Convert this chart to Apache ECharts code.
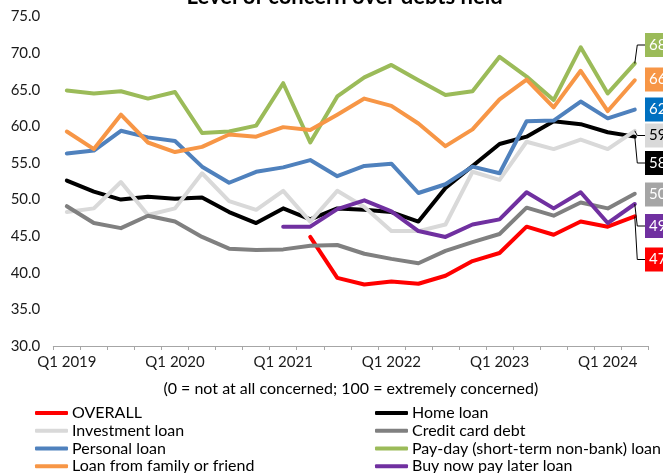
<!DOCTYPE html>
<html>
<head>
<meta charset="utf-8">
<script src="https://cdn.jsdelivr.net/npm/echarts@6/dist/echarts.min.js"></script>
<style>
  html, body { margin: 0; padding: 0; background: #ffffff; }
  #chart { width: 663px; height: 473px; }
</style>
</head>
<body>
<div id="chart"></div>
<script>
// Quarterly survey index, Q1 2019 - Q2 2024
const quarters = [
  'Q1 2019', 'Q2 2019', 'Q3 2019', 'Q4 2019',
  'Q1 2020', 'Q2 2020', 'Q3 2020', 'Q4 2020',
  'Q1 2021', 'Q2 2021', 'Q3 2021', 'Q4 2021',
  'Q1 2022', 'Q2 2022', 'Q3 2022', 'Q4 2022',
  'Q1 2023', 'Q2 2023', 'Q3 2023', 'Q4 2023',
  'Q1 2024', 'Q2 2024'
];

const overall = [null, null, null, null, null, null, null, null, null,
  44.9, 39.3, 38.4, 38.8, 38.5, 39.6, 41.6, 42.7, 46.3, 45.2, 47.0, 46.3, 47.7];
const homeLoan = [52.6, 51.1, 50.0, 50.4, 50.1, 50.3, 48.3, 46.8, 48.8, 47.3, 48.8,
  48.6, 48.3, 47.0, 51.6, 54.6, 57.6, 58.6, 60.7, 60.3, 59.2, 58.6];
const investmentLoan = [48.3, 48.8, 52.4, 47.9, 48.8, 53.6, 49.8, 48.6, 51.2, 47.0, 51.2,
  49.0, 45.7, 45.7, 46.6, 53.8, 52.7, 57.9, 56.9, 58.2, 56.9, 59.4];
const creditCardDebt = [49.1, 46.8, 46.1, 47.8, 47.0, 44.9, 43.3, 43.1, 43.2, 43.7, 43.8,
  42.6, 41.9, 41.3, 43.0, 44.2, 45.3, 48.9, 47.8, 49.6, 48.8, 50.8];
const personalLoan = [56.3, 56.7, 59.4, 58.5, 58.0, 54.5, 52.3, 53.8, 54.4, 55.4, 53.2,
  54.6, 54.9, 50.9, 52.1, 54.5, 53.6, 60.7, 60.8, 63.4, 61.1, 62.3];
const payDayLoan = [64.9, 64.5, 64.8, 63.8, 64.7, 59.1, 59.3, 60.1, 65.9, 57.8, 64.1,
  66.7, 68.4, 66.3, 64.3, 64.8, 69.5, 66.8, 63.6, 70.8, 64.5, 68.6];
const familyLoan = [59.3, 56.9, 61.6, 57.8, 56.5, 57.2, 58.9, 58.6, 59.9, 59.5, 61.6,
  63.8, 62.8, 60.4, 57.3, 59.6, 63.7, 66.4, 62.6, 67.6, 62.1, 66.3];
const bnplLoan = [null, null, null, null, null, null, null, null,
  46.3, 46.3, 48.7, 49.9, 48.4, 45.7, 44.9, 46.6, 47.3, 51.0, 48.8, 51.0, 46.8, 49.4];

const yTicks = { min: 30, max: 75, step: 5 };

// Series definitions: name, values, line colour, end-label box colour, end-label text colour
const seriesDefs = [
  { name: 'OVERALL', data: overall, color: '#FF0000', box: '#FF0000', text: '#ffffff' },
  { name: 'Home loan', data: homeLoan, color: '#000000', box: '#000000', text: '#ffffff' },
  { name: 'Investment loan', data: investmentLoan, color: '#D9D9D9', box: '#D9D9D9', text: '#000000' },
  { name: 'Credit card debt', data: creditCardDebt, color: '#808080', box: '#A5A5A5', text: '#ffffff' },
  { name: 'Personal loan', data: personalLoan, color: '#4F81BD', box: '#0070C0', text: '#ffffff' },
  { name: 'Pay-day (short-term non-bank) loan', data: payDayLoan, color: '#9BBB59', box: '#9BBB59', text: '#ffffff' },
  { name: 'Loan from family or friend', data: familyLoan, color: '#F79646', box: '#F79646', text: '#ffffff' },
  { name: 'Buy now pay later loan', data: bnplLoan, color: '#7030A0', box: '#7030A0', text: '#ffffff' }
];

// Stacked end-label placement (vertical centre, px) to the right of the plot
const endLabelY = {
  'Pay-day (short-term non-bank) loan': 45,
  'Loan from family or friend': 79.5,
  'Personal loan': 109.5,
  'Investment loan': 135.5,
  'Home loan': 163,
  'Credit card debt': 194.5,
  'Buy now pay later loan': 226,
  'OVERALL': 259.5
};
const endLabelX = 645;

const FONT = 'Lato, "Liberation Sans", sans-serif';

const chart = echarts.init(document.getElementById('chart'), null, { renderer: 'canvas' });

const series = seriesDefs.map(def => {
  const last = def.data.length - 1;
  return {
    name: def.name,
    type: 'line',
    data: def.data.map((v, i) => i === last ? { value: v, label: { show: true } } : v),
    connectNulls: false,
    showSymbol: true,
    symbol: 'circle',
    symbolSize: 0,
    itemStyle: { color: def.color },
    lineStyle: { color: def.color, width: 4, cap: 'round', join: 'round' },
    emphasis: { disabled: true },
    animation: false,
    label: {
      show: false,
      formatter: p => Number(p.value).toFixed(1),
      backgroundColor: def.box,
      color: def.text,
      fontFamily: FONT,
      fontSize: 15,
      lineHeight: 16,
      padding: [4, 8, 4, 4]
    },
    labelLayout: () => ({
      x: endLabelX,
      y: endLabelY[def.name],
      align: 'left',
      verticalAlign: 'middle'
    })
  };
});

const legendBase = {
  orient: 'vertical',
  top: 404,
  height: 80,
  padding: 0,
  itemGap: 0,
  itemWidth: 33,
  itemHeight: 4,
  icon: 'roundRect',
  selectedMode: false,
  textStyle: { fontFamily: FONT, fontSize: 16, color: '#000', lineHeight: 17.8, padding: [0, 0, 0, -1] }
};

chart.setOption({
  animation: false,
  grid: { left: 53.3, right: 14.7, top: 16.6, bottom: 127, containLabel: false },
  xAxis: {
    type: 'category',
    data: quarters,
    boundaryGap: true,
    axisLine: { show: true, lineStyle: { color: '#A6A6A6', width: 1 } },
    axisTick: { show: true, interval: 0, length: 4, lineStyle: { color: '#A6A6A6' } },
    axisLabel: {
      interval: 3,
      margin: 9,
      fontFamily: FONT,
      fontSize: 15,
      color: '#1a1a1a'
    },
    splitLine: { show: false }
  },
  yAxis: {
    type: 'value',
    min: yTicks.min,
    max: yTicks.max,
    interval: yTicks.step,
    axisLine: { show: false },
    axisTick: { show: false },
    splitLine: { show: false },
    axisLabel: {
      margin: 13,
      fontFamily: FONT,
      fontSize: 15,
      color: '#1a1a1a',
      formatter: v => v.toFixed(1)
    }
  },
  legend: [
    Object.assign({}, legendBase, {
      left: 35,
      data: ['OVERALL', 'Investment loan', 'Personal loan', 'Loan from family or friend']
    }),
    Object.assign({}, legendBase, {
      left: 375,
      data: ['Home loan', 'Credit card debt', 'Pay-day (short-term non-bank) loan', 'Buy now pay later loan']
    })
  ],
  series: series
});

// Title, axis note and end-label leader lines, placed from the chart's own scales
const grid = chart.getModel().getComponent('grid').coordinateSystem.getRect();
const plotCentre = grid.x + grid.width / 2;

const graphics = [
  {
    type: 'text',
    x: 344.6, y: 8,
    style: {
      text: 'Level of concern over debts held',
      fontFamily: FONT, fontSize: 22, fontWeight: 'bold',
      fill: '#000', align: 'center', verticalAlign: 'bottom'
    }
  },
  {
    type: 'text',
    x: plotCentre, y: 389,
    style: {
      text: '(0 = not at all concerned; 100 = extremely concerned)',
      fontFamily: FONT, fontSize: 16,
      fill: '#000', align: 'center', verticalAlign: 'middle'
    }
  }
];

seriesDefs.forEach(def => {
  const last = def.data.length - 1;
  const pt = chart.convertToPixel({ xAxisIndex: 0, yAxisIndex: 0 }, [last, def.data[last]]);
  const ly = endLabelY[def.name];
  if (Math.abs(ly - pt[1]) > 3) {
    graphics.push({
      type: 'polyline',
      z: 10,
      shape: { points: [[pt[0], pt[1]], [pt[0] + 2.5, ly], [endLabelX, ly]] },
      style: { stroke: '#000', lineWidth: 1, fill: null }
    });
  }
});

chart.setOption({ graphic: graphics });
</script>
</body>
</html>
